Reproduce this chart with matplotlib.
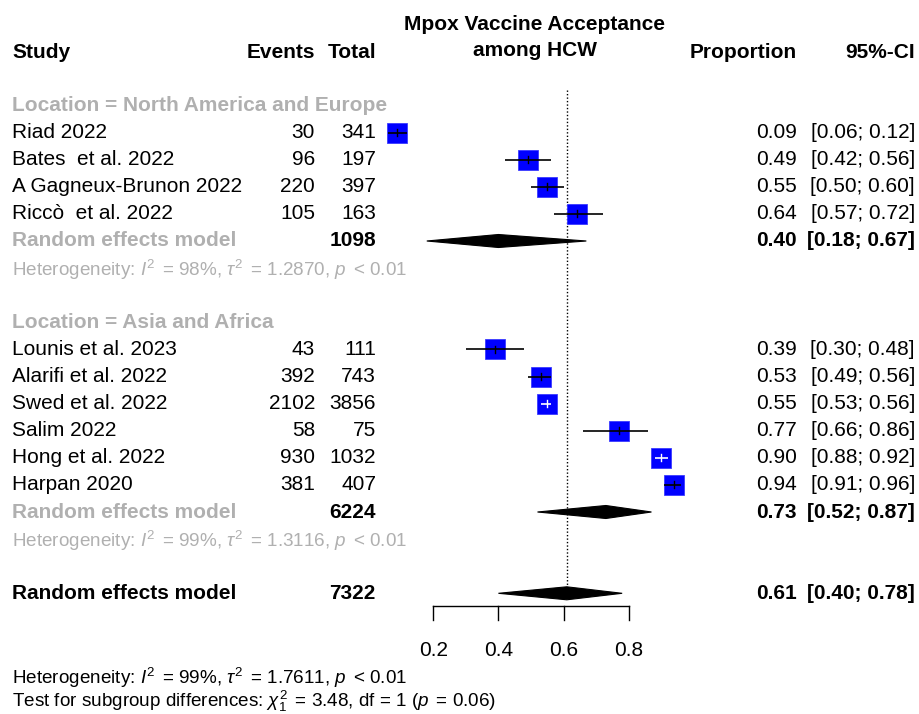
import matplotlib
matplotlib.use("Agg")
import matplotlib.pyplot as plt
from matplotlib.patches import Polygon

plt.rcParams['font.family'] = ['Liberation Sans', 'DejaVu Sans']
plt.rcParams['mathtext.fontset'] = 'custom'
plt.rcParams['mathtext.rm'] = 'Liberation Sans'
plt.rcParams['mathtext.it'] = 'Liberation Sans:italic'
plt.rcParams['mathtext.bf'] = 'Liberation Sans:bold'

# ---------------- data ----------------
groups = ["North America and Europe", "Asia and Africa"]

g1_studies = ["Riad 2022", "Bates  et al. 2022", "A Gagneux-Brunon 2022", "Riccò  et al. 2022"]
g1_events = [30, 96, 220, 105]
g1_totals = [341, 197, 397, 163]
g1_prop = [0.09, 0.49, 0.55, 0.64]
g1_lo = [0.06, 0.42, 0.50, 0.57]
g1_hi = [0.12, 0.56, 0.60, 0.72]

g2_studies = ["Lounis et al. 2023", "Alarifi et al. 2022", "Swed et al. 2022",
              "Salim 2022", "Hong et al. 2022", "Harpan 2020"]
g2_events = [43, 392, 2102, 58, 930, 381]
g2_totals = [111, 743, 3856, 75, 1032, 407]
g2_prop = [0.39, 0.53, 0.55, 0.77, 0.90, 0.94]
g2_lo = [0.30, 0.49, 0.53, 0.66, 0.88, 0.91]
g2_hi = [0.48, 0.56, 0.56, 0.86, 0.92, 0.96]

sub_total = [1098, 6224]
sub_est = [0.40, 0.73]
sub_lo = [0.18, 0.52]
sub_hi = [0.67, 0.87]
sub_i2 = ["98%", "99%"]
sub_tau2 = ["1.2870", "1.3116"]

overall_total = 7322
overall_est = 0.61
overall_lo = 0.40
overall_hi = 0.78
overall_i2 = "99%"
overall_tau2 = "1.7611"
test_chi2 = "3.48"
test_df = 1
test_p = "0.06"

xticks = [0.2, 0.4, 0.6, 0.8]

# ---------------- layout ----------------
W, H = 919, 714
X02 = 433.3      # pixel of 0.2
UNIT = 325.6     # pixels per 1.0
def px(x):
    return 0.2 + (x - X02) / UNIT

FS = 15.0
FS_SMALL = 13.6
GRAY = '#b0b0b0'

fig = plt.figure(figsize=(W / 100, H / 100), dpi=100)
ax = fig.add_axes([0, 0, 1, 1])
ax.set_xlim(px(0), px(W))
ax.set_ylim(H, 0)
ax.axis('off')

X_STUDY = px(12)
X_EVENTS = px(315)
X_TOTAL = px(376)
X_PROP = px(797)
X_CI = px(915)

def txt(x, y, s, ha='left', bold=False, color='black', fs=FS):
    ax.text(x, y, s, ha=ha, va='center', fontsize=fs,
            fontweight='bold' if bold else 'normal', color=color)

# headers
txt(px(535), 25, "Mpox Vaccine Acceptance", ha='center', bold=True)
txt(px(535), 51, "among HCW", ha='center', bold=True)
txt(X_STUDY, 52, "Study", bold=True)
txt(X_EVENTS, 52, "Events", ha='right', bold=True)
txt(X_TOTAL, 52, "Total", ha='right', bold=True)
txt(X_PROP, 52, "Proportion", ha='right', bold=True)
txt(X_CI, 52, "95%-CI", ha='right', bold=True)

Y0 = 105.5
STEP = 27.1
def rowy(r):
    return Y0 + STEP * r

SQ = 13.7  # square marker size in points

def draw_study(y, name, ev, tot, p, lo, hi):
    txt(X_STUDY, y, name)
    txt(X_EVENTS, y, str(ev), ha='right')
    txt(X_TOTAL, y, str(tot), ha='right')
    txt(X_PROP, y, f"{p:.2f}", ha='right')
    txt(X_CI, y, f"[{lo:.2f}; {hi:.2f}]", ha='right')
    ax.plot([p], [y], marker='s', markersize=SQ, color='#0000ff',
            markeredgecolor='#3a3aff', markeredgewidth=0.6, zorder=3)
    lc = 'white' if (hi - lo) < 0.045 else 'black'
    ax.plot([lo, hi], [y, y], color=lc, lw=1.2, zorder=4, solid_capstyle='butt')
    ax.plot([p, p], [y - 3.5, y + 3.5], color=lc, lw=1.0, zorder=4)

def draw_diamond(y, est, lo, hi, h=6.5):
    poly = Polygon([(lo, y), (est, y - h), (hi, y), (est, y + h)],
                   closed=True, facecolor='black', edgecolor='black', lw=0.8, zorder=4)
    ax.add_patch(poly)

def het_text(i2, tau2):
    return (r"Heterogeneity: $\mathit{I}^{2}\,$ = " + i2 + r", $\tau^{2}\,$ = " + tau2 +
            r", $\mathit{p}\,$ < 0.01")

all_groups = [
    (g1_studies, g1_events, g1_totals, g1_prop, g1_lo, g1_hi),
    (g2_studies, g2_events, g2_totals, g2_prop, g2_lo, g2_hi),
]

r = 0
for gi, (names, evs, tots, ps, los, his) in enumerate(all_groups):
    txt(X_STUDY, rowy(r), f"Location = {groups[gi]}", bold=True, color=GRAY)
    r += 1
    for k in range(len(names)):
        draw_study(rowy(r), names[k], evs[k], tots[k], ps[k], los[k], his[k])
        r += 1
    y = rowy(r)
    txt(X_STUDY, y, "Random effects model", bold=True, color=GRAY)
    txt(X_TOTAL, y, str(sub_total[gi]), ha='right', bold=True)
    txt(X_PROP, y, f"{sub_est[gi]:.2f}", ha='right', bold=True)
    txt(X_CI, y, f"[{sub_lo[gi]:.2f}; {sub_hi[gi]:.2f}]", ha='right', bold=True)
    draw_diamond(y, sub_est[gi], sub_lo[gi], sub_hi[gi])
    r += 1
    txt(X_STUDY, rowy(r) + 1.5, het_text(sub_i2[gi], sub_tau2[gi]), color=GRAY, fs=FS_SMALL)
    r += 2

y = rowy(r)
txt(X_STUDY, y, "Random effects model", bold=True)
txt(X_TOTAL, y, str(overall_total), ha='right', bold=True)
txt(X_PROP, y, f"{overall_est:.2f}", ha='right', bold=True)
txt(X_CI, y, f"[{overall_lo:.2f}; {overall_hi:.2f}]", ha='right', bold=True)
draw_diamond(y, overall_est, overall_lo, overall_hi)

# reference dotted line
ax.plot([overall_est, overall_est], [90, y - 6], color='black', lw=1.0,
        linestyle=(0, (1, 1.5)), zorder=2)

# axis
AX_Y = 606
ax.plot([xticks[0], xticks[-1]], [AX_Y, AX_Y], color='black', lw=1.0)
for t in xticks:
    ax.plot([t, t], [AX_Y, AX_Y + 14], color='black', lw=1.0)
    txt(t, 650, f"{t:.1f}", ha='center')

txt(X_STUDY, 678, het_text(overall_i2, overall_tau2), fs=FS_SMALL)
txt(X_STUDY, 701,
    r"Test for subgroup differences: $\chi^{2}_{" + str(test_df) + r"}\,$ = " + test_chi2 +
    r", df = " + str(test_df) + r" ($\mathit{p}\,$ = " + test_p + ")", fs=FS_SMALL)

fig.savefig("out.png", dpi=100)
